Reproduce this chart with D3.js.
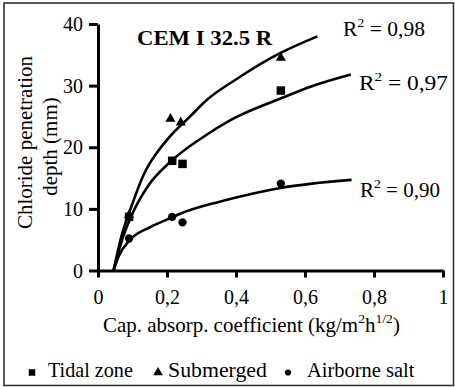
<!DOCTYPE html>
<html><head><meta charset="utf-8">
<script src="https://cdn.jsdelivr.net/npm/d3@7"></script>
<style>body{margin:0;background:#fff;}svg{display:block;}svg text{font-family:"Liberation Serif","Times New Roman",serif;}</style>
</head><body><svg id="c" width="455" height="387"></svg>
<script>
const FONT = "'Liberation Serif', 'Times New Roman', serif";
const xTicks = [0, 0.2, 0.4, 0.6, 0.8, 1];
const xTickLabels = ["0", "0,2", "0,4", "0,6", "0,8", "1"];
const yTicks = [0, 10, 20, 30, 40];
const seriesNames = ["Tidal zone", "Submerged", "Airborne salt"];
const r2Labels = ["0,97", "0,98", "0,90"];
// measured points
const tidalX = [0.09, 0.215, 0.245, 0.53];
const tidalY = [8.7, 17.8, 17.3, 29.2];
const submergedX = [0.09, 0.21, 0.24, 0.53];
const submergedY = [9.0, 24.6, 24.0, 34.5];
const airborneX = [0.09, 0.215, 0.245, 0.53];
const airborneY = [5.2, 8.7, 7.8, 14.1];
// trend lines
const tidalFitX = [0.045, 0.07, 0.093, 0.146, 0.209, 0.306, 0.384, 0.529, 0.62, 0.733];
const tidalFitY = [0, 5.0, 8.4, 13.8, 17.6, 21.7, 24.4, 27.9, 29.9, 31.8];
const submergedFitX = [0.045, 0.07, 0.093, 0.132, 0.2, 0.267, 0.316, 0.4, 0.529, 0.636];
const submergedFitY = [0, 6.0, 9.8, 15.5, 21.2, 25.0, 27.7, 31.0, 35.3, 38.0];
const airborneFitX = [0.045, 0.06, 0.093, 0.15, 0.214, 0.238, 0.355, 0.45, 0.529, 0.62, 0.735];
const airborneFitY = [0, 2.3, 5.0, 7.0, 8.6, 9.2, 11.2, 12.5, 13.4, 14.1, 14.7];

const svg = d3.select("#c");
svg.append("rect").attr("x",4).attr("y",3).attr("width",449.5).attr("height",382.5)
  .attr("fill","#fff").attr("stroke","#333").attr("stroke-width",1.6);

// place a text at (x,y) and stretch it horizontally to a target width
function fit(t, x, y, w) {
  t.attr("x",0).attr("y",0);
  const bw = t.node().getBBox().width;
  const s = w ? w / bw : 1;
  t.attr("transform", `translate(${x},${y}) scale(${s},1)`);
  return t;
}

const x = d3.scaleLinear().domain([0,1]).range([98,443]);
const y = d3.scaleLinear().domain([0,40]).range([270.5,24]);

// axes
const xAxis = svg.append("g").attr("transform","translate(0,270.5)")
  .call(d3.axisBottom(x).tickValues(xTicks).tickFormat((d,i)=>xTickLabels[i]).tickSize(7).tickPadding(12).tickSizeOuter(0));
const yAxis = svg.append("g").attr("transform","translate(98,0)")
  .call(d3.axisLeft(y).tickValues(yTicks).tickSize(9).tickPadding(6).tickSizeOuter(0));
[xAxis,yAxis].forEach(a=>{
  a.attr("font-family",FONT);
  a.select(".domain").attr("stroke","#000").attr("stroke-width",3);
  a.selectAll(".tick line").attr("stroke","#000").attr("stroke-width",3);
  a.selectAll("text").attr("font-family",FONT).attr("font-size",20).attr("fill","#000");
});
xAxis.selectAll("text").attr("dy","0.71em");
yAxis.selectAll("text").attr("dy","0.33em");

// lines
const line = d3.line().x(d=>x(d[0])).y(d=>y(d[1])).curve(d3.curveMonotoneX);
const fits = [[tidalFitX,tidalFitY],[submergedFitX,submergedFitY],[airborneFitX,airborneFitY]];
fits.forEach(([fx,fy])=>{
  svg.append("path").datum(fx.map((v,i)=>[v,fy[i]])).attr("d",line)
    .attr("fill","none").attr("stroke","#000").attr("stroke-width",2.6).attr("stroke-linejoin","round");
});

// markers
const sym = [d3.symbolSquare, d3.symbolTriangle, d3.symbolCircle];
const sizes = [72, 44, 54];
const pts = [[tidalX,tidalY],[submergedX,submergedY],[airborneX,airborneY]];
pts.forEach(([px,py],k)=>{
  px.forEach((v,i)=>{
    svg.append("path").attr("d",d3.symbol(sym[k],sizes[k])())
      .attr("transform",`translate(${x(v)},${y(py[i])})`).attr("fill","#000");
  });
});

// title
fit(svg.append("text").attr("font-family",FONT).attr("font-size",20).attr("font-weight","bold").text("CEM I 32.5 R"), 137, 45, 136);

// R2 labels
const r2pos = [[359,90,89],[343,36,82],[360,197,80]];
r2Labels.forEach((t,i)=>{
  const tx = svg.append("text").attr("font-family",FONT).attr("font-size",20);
  tx.append("tspan").text("R");
  tx.append("tspan").attr("font-size",13).attr("dy",-9).text("2");
  tx.append("tspan").attr("dy",9).text(" = "+t);
  fit(tx, r2pos[i][0], r2pos[i][1], r2pos[i][2]);
});

// y label
const yl = svg.append("g").attr("transform","translate(32,142.5) rotate(-90)");
yl.append("text").attr("text-anchor","middle").attr("font-family",FONT).attr("font-size",21).text("Chloride penetration");
yl.append("text").attr("text-anchor","middle").attr("x",-4).attr("y",25).attr("font-family",FONT).attr("font-size",21).text("depth (mm)");

// x label
const xl = svg.append("text").attr("font-family",FONT).attr("font-size",20);
xl.append("tspan").text("Cap. absorp. coefficient (kg/m");
xl.append("tspan").attr("font-size",13).attr("dy",-9).text("2");
xl.append("tspan").attr("dy",9).text("h");
xl.append("tspan").attr("font-size",13).attr("dy",-9).text("1/2");
xl.append("tspan").attr("dy",9).text(")");
fit(xl, 103, 332, 297);

// legend
const legMarkX = [32, 158, 288];
const legText = [[48,85],[168,99],[307,108]];
const legSizes = [42, 40, 30];
seriesNames.forEach((n,i)=>{
  svg.append("path").attr("d",d3.symbol(sym[i],legSizes[i])())
    .attr("transform",`translate(${legMarkX[i]},${372.5})`).attr("fill","#000");
  fit(svg.append("text").attr("font-family",FONT).attr("font-size",20).text(n), legText[i][0], 377, legText[i][1]);
});
</script></body></html>
